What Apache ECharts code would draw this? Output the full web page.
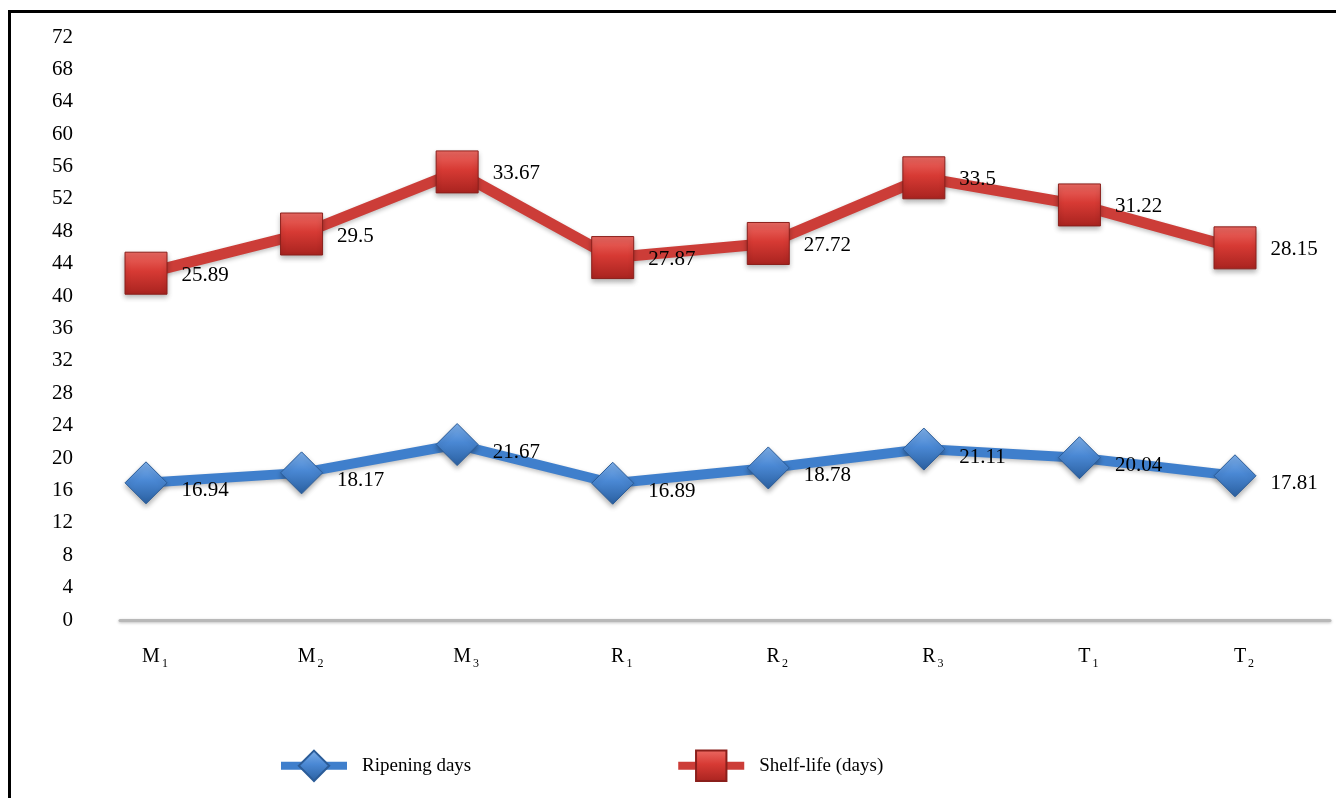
<!DOCTYPE html>
<html>
<head>
<meta charset="utf-8">
<title>Ripening days and shelf-life</title>
<script src="https://cdn.jsdelivr.net/npm/echarts@6/dist/echarts.min.js"></script>
<style>
  html, body { margin: 0; padding: 0; background: #ffffff; }
  #chart { width: 1336px; height: 798px; }
</style>
</head>
<body>
<div id="chart"></div>
<script>
// Treatments on the category axis: letter plus subscript number
const categories = [['M', '1'], ['M', '2'], ['M', '3'], ['R', '1'], ['R', '2'], ['R', '3'], ['T', '1'], ['T', '2']];
// Days to ripen for each treatment
const ripeningDays = [16.94, 18.17, 21.67, 16.89, 18.78, 21.11, 20.04, 17.81];
// Shelf-life in days, stacked on top of the ripening days
const shelfLifeDays = [25.89, 29.5, 33.67, 27.87, 27.72, 33.5, 31.22, 28.15];
// Y-axis range and step
const yMin = 0, yMax = 72, yStep = 4;

const serif = '"Liberation Serif", "DejaVu Serif", serif';

const chart = echarts.init(document.getElementById('chart'), null, { renderer: 'canvas' });

function markerFill(light, mid, dark) {
  return new echarts.graphic.LinearGradient(0, 0, 0, 1, [
    { offset: 0, color: light },
    { offset: 0.45, color: mid },
    { offset: 1, color: dark }
  ]);
}

const option = {
  backgroundColor: '#ffffff',
  animation: false,
  textStyle: { fontFamily: serif, color: '#000' },
  graphic: [
    {
      type: 'polyline',
      shape: { points: [[9.5, 800], [9.5, 11.5], [1340, 11.5]] },
      style: { stroke: '#000', lineWidth: 3, fill: null },
      silent: true
    }
  ],
  grid: [
    { left: 146, right: 101, top: 37, bottom: 178 },
    { left: 120, right: 6, top: 37, bottom: 178 }
  ],
  xAxis: [
    {
      type: 'category',
      gridIndex: 0,
      data: categories.map(c => c[0] + '_' + c[1]),
      boundaryGap: false,
      axisLine: { show: false },
      axisTick: { show: false },
      splitLine: { show: false },
      axisLabel: {
        margin: 24,
        padding: [0, 0, 0, 18],
        formatter: function (v) {
          const p = v.split('_');
          return p[0] + '{s|' + p[1] + '}';
        },
        fontFamily: serif,
        fontSize: 20,
        color: '#000',
        rich: {
          s: { fontFamily: serif, fontSize: 12, color: '#000', padding: [14, 0, 0, 2] }
        }
      }
    },
    {
      type: 'value',
      gridIndex: 1,
      min: 0,
      max: 1,
      axisLine: {
        show: true,
        lineStyle: { color: '#b8b8b8', width: 3, shadowColor: 'rgba(0,0,0,0.25)', shadowBlur: 3, shadowOffsetY: 1 }
      },
      axisTick: { show: false },
      axisLabel: { show: false },
      splitLine: { show: false }
    }
  ],
  yAxis: [
    {
      type: 'value',
      gridIndex: 0,
      min: yMin,
      max: yMax,
      interval: yStep,
      axisLine: { show: false },
      axisTick: { show: false },
      splitLine: { show: false },
      axisLabel: { margin: 73, fontFamily: serif, fontSize: 21, color: '#000' }
    },
    {
      type: 'value',
      gridIndex: 1,
      min: yMin,
      max: yMax,
      show: false
    }
  ],
  legend: {
    bottom: 11,
    left: 272,
    itemWidth: 66,
    itemHeight: 38,
    itemGap: 203,
    lineStyle: { width: 8 },
    textStyle: { fontFamily: serif, fontSize: 19, color: '#000', padding: [0, 0, 0, 10] },
    data: ['Ripening days', 'Shelf-life (days)']
  },
  series: [
    {
      name: 'Ripening days',
      type: 'line',
      stack: 'days',
      xAxisIndex: 0,
      yAxisIndex: 0,
      data: ripeningDays,
      symbol: 'diamond',
      symbolSize: [42, 42],
      lineStyle: {
        color: '#3f7fcc',
        width: 10,
        shadowColor: 'rgba(0,0,0,0.25)',
        shadowBlur: 4,
        shadowOffsetY: 2
      },
      itemStyle: {
        color: markerFill('#7fb0ea', '#4a88d4', '#2a5f9f'),
        borderColor: '#2b5c98',
        borderWidth: 1,
        shadowColor: 'rgba(0,0,0,0.3)',
        shadowBlur: 5,
        shadowOffsetY: 3
      },
      label: {
        show: true,
        position: 'right',
        distance: 14,
        offset: [0, 8],
        fontFamily: serif,
        fontSize: 21,
        color: '#000',
        formatter: p => String(p.value)
      },
      z: 3
    },
    {
      name: 'Shelf-life (days)',
      type: 'line',
      stack: 'days',
      xAxisIndex: 0,
      yAxisIndex: 0,
      data: shelfLifeDays,
      symbol: 'rect',
      symbolSize: [42, 42],
      lineStyle: {
        color: '#cc3d38',
        width: 11,
        shadowColor: 'rgba(0,0,0,0.25)',
        shadowBlur: 4,
        shadowOffsetY: 2
      },
      itemStyle: {
        color: markerFill('#ec6a63', '#d73a34', '#a8231f'),
        borderColor: '#8a1f1b',
        borderWidth: 1,
        shadowColor: 'rgba(0,0,0,0.3)',
        shadowBlur: 5,
        shadowOffsetY: 3
      },
      label: {
        show: true,
        position: 'right',
        distance: 14,
        offset: [0, 2],
        fontFamily: serif,
        fontSize: 21,
        color: '#000',
        formatter: p => String(p.value)
      },
      z: 3
    }
  ]
};

chart.setOption(option);
</script>
</body>
</html>
